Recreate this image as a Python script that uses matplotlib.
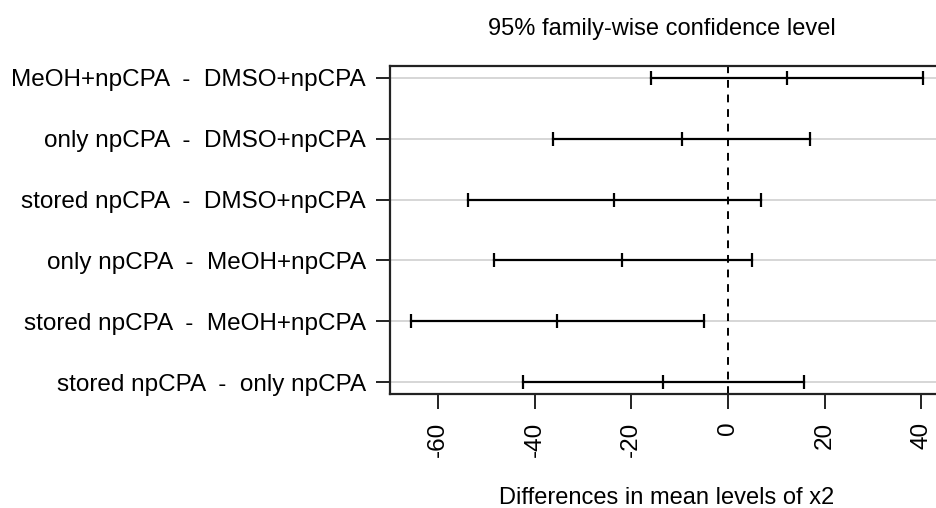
import matplotlib
matplotlib.use("Agg")
import matplotlib.pyplot as plt
import numpy as np

# Tukey HSD pairwise comparisons (top to bottom)
comparisons = [
    "MeOH+npCPA  -  DMSO+npCPA",
    "only npCPA  -  DMSO+npCPA",
    "stored npCPA  -  DMSO+npCPA",
    "only npCPA  -  MeOH+npCPA",
    "stored npCPA  -  MeOH+npCPA",
    "stored npCPA  -  only npCPA",
]
diff = [12.3, -9.6, -23.5, -21.9, -35.3, -13.4]
lwr = [-15.9, -36.3, -53.8, -48.5, -65.7, -42.5]
upr = [40.4, 17.0, 6.9, 5.0, -5.0, 15.7]
xticks = [-60, -40, -20, 0, 20, 40]

plt.rcParams["font.family"] = ["Liberation Sans", "DejaVu Sans"]
FS = 17

W, H = 936, 508
fig = plt.figure(figsize=(W / 100, H / 100), dpi=100)

# axes region in pixels (extends slightly past the right edge)
left, right, top, bottom = 390, 943.7, 65.7, 394.3
ax = fig.add_axes([left / W, 1 - bottom / H, (right - left) / W, (bottom - top) / H])

n = len(comparisons)
yvals = np.arange(n, 0, -1)

for y in yvals:
    ax.axhline(y, color="#D3D3D3", lw=1.3, zorder=1)
ax.axvline(0, color="black", lw=1.4, dashes=(4.0, 3.5), zorder=2)

for y, lo, d, hi in zip(yvals, lwr, diff, upr):
    ax.plot([lo, hi], [y, y], color="black", lw=1.6, zorder=3)
    ax.plot([lo, d, hi], [y, y, y], ls="none", marker="|", ms=10,
            mew=1.6, color="black", zorder=4)

lo_all = min(lwr)
hi_all = max(upr)
ext = 0.04 * (hi_all - lo_all)
ax.set_xlim(lo_all - ext, hi_all + ext)
ax.set_ylim(1 - 0.04 * (n - 1), n + 0.04 * (n - 1))

ax.set_xticks(xticks)
ax.set_xticklabels([str(t) for t in xticks], rotation=90, fontsize=17.5)
ax.set_yticks(yvals)
ax.set_yticklabels(comparisons, fontsize=17.5)
ax.tick_params(axis="x", length=10.5, width=1.4, pad=9, color="#222222")
ax.tick_params(axis="y", length=10, width=1.4, pad=7.5, color="#222222")
for s in ax.spines.values():
    s.set_linewidth(1.6)
    s.set_color("#222222")

fig.text((left + right) / 2 / W - 5 / W, 1 - 35 / H, "95% family-wise confidence level",
         ha="center", va="baseline", fontsize=FS)
fig.text((left + right) / 2 / W, 1 - 504 / H, "Differences in mean levels of x2",
         ha="center", va="baseline", fontsize=FS)

fig.savefig("out.png", dpi=100)
